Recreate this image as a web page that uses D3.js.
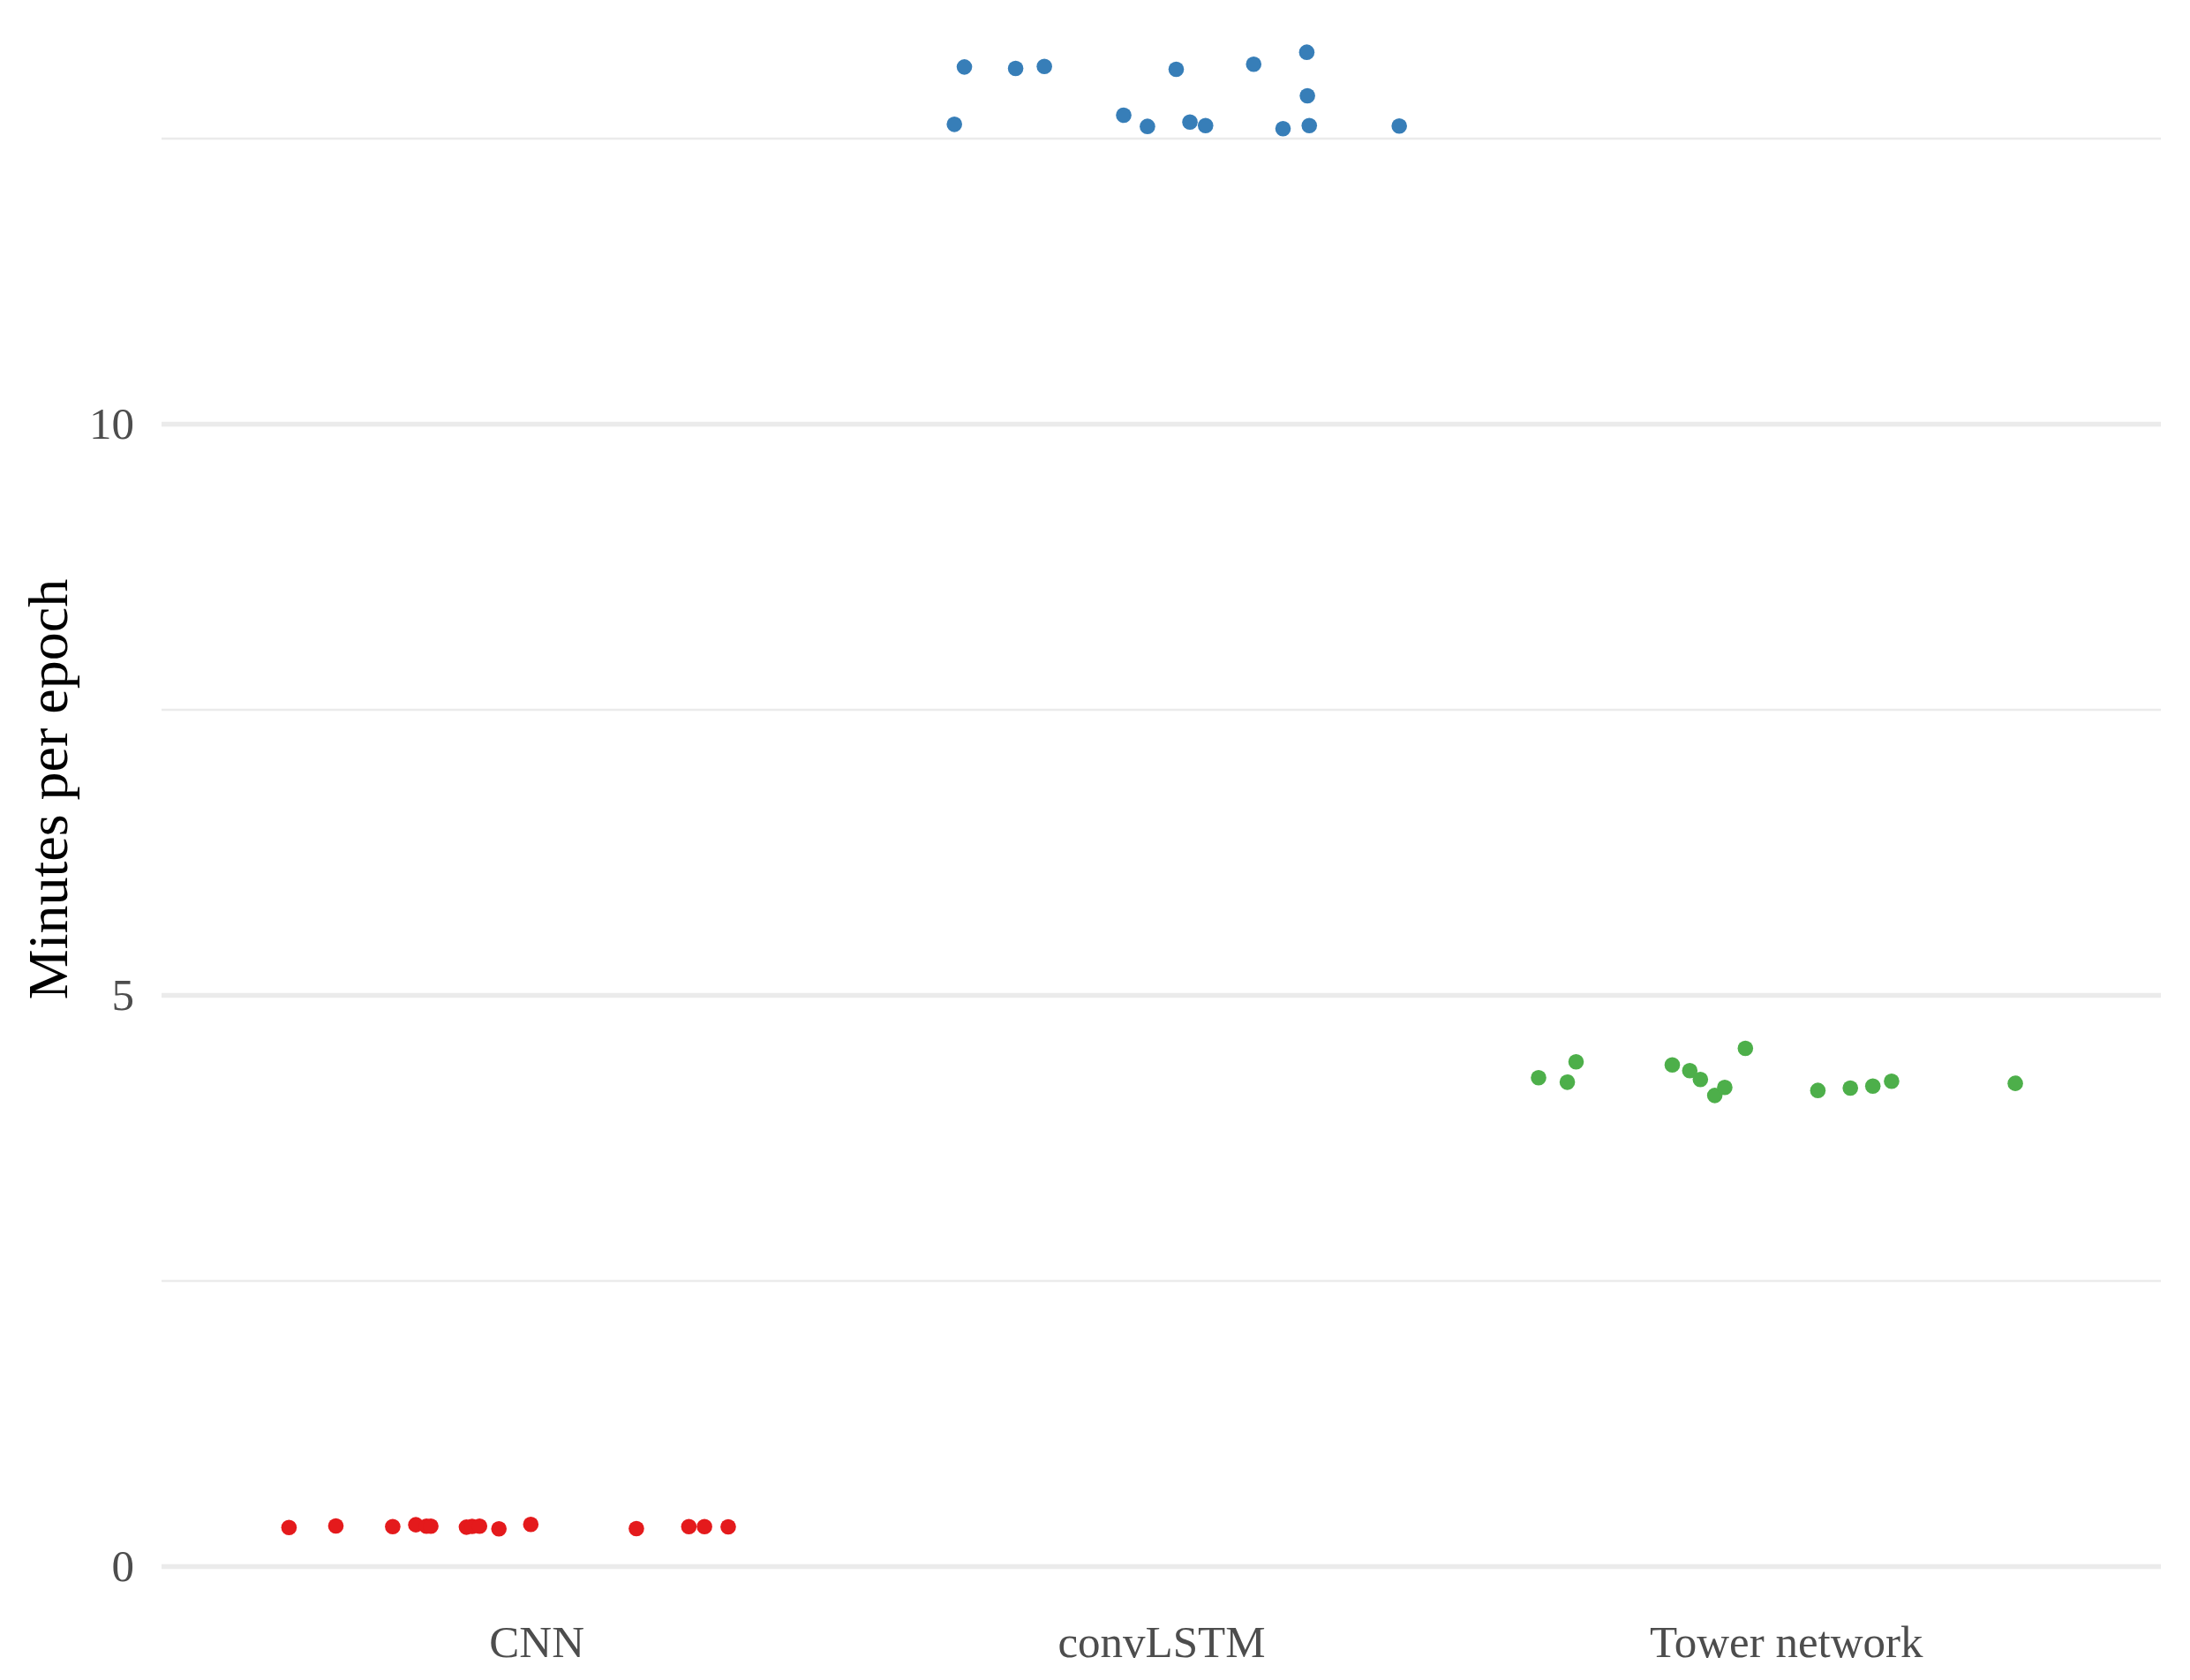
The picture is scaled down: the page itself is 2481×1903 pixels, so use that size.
<!DOCTYPE html>
<html>
<head>
<meta charset="utf-8">
<script src="https://cdn.jsdelivr.net/npm/d3@7"></script>
<style>
body { margin: 0; background: #fff; }
</style>
</head>
<body>
<div id="chart"></div>
<script>
// categories and tick values
const categories = ["CNN", "convLSTM", "Tower network"];
const colors = ["#E41A1C", "#377EB8", "#4DAF4A"];
const majorTicks = [0, 5, 10];
const minorTicks = [2.5, 7.5, 12.5];

// minutes per epoch (jitter = horizontal offset in category steps)
const cnnMinutes = [0.342, 0.355, 0.350, 0.366, 0.353, 0.353, 0.345, 0.352, 0.353, 0.330, 0.369, 0.332, 0.350, 0.350, 0.348];
const cnnJitter = [-0.396, -0.321, -0.230, -0.193, -0.176, -0.169, -0.112, -0.103, -0.091, -0.060, -0.009, 0.160, 0.244, 0.269, 0.307];

const lstmMinutes = [12.625, 13.127, 13.114, 13.132, 12.705, 12.607, 13.107, 12.645, 12.614, 13.151, 12.587, 13.256, 12.875, 12.614, 12.610];
const lstmJitter = [-0.331, -0.315, -0.233, -0.187, -0.060, -0.022, 0.024, 0.046, 0.071, 0.148, 0.195, 0.233, 0.234, 0.237, 0.381];

const towerMinutes = [4.279, 4.240, 4.418, 4.392, 4.341, 4.264, 4.124, 4.194, 4.536, 4.168, 4.189, 4.206, 4.248, 4.230];
const towerJitter = [-0.396, -0.350, -0.336, -0.182, -0.154, -0.137, -0.114, -0.098, -0.065, 0.051, 0.103, 0.139, 0.169, 0.367];

const series = [
    { name: "CNN", minutes: cnnMinutes, jitter: cnnJitter },
    { name: "convLSTM", minutes: lstmMinutes, jitter: lstmJitter },
    { name: "Tower network", minutes: towerMinutes, jitter: towerJitter }
];

let margin = { top: 0, right: 33, bottom: 130, left: 183 };
let width = 2481 - margin.left - margin.right,
    height = 1903 - margin.top - margin.bottom;

let svg = d3.select("#chart").append("svg")
    .attr("width", width + margin.left + margin.right)
    .attr("height", height + margin.top + margin.bottom)
    .append("g")
    .attr("transform", "translate(" + margin.left + "," + margin.top + ")");

let x = d3.scalePoint()
    .domain(categories)
    .range([0, width])
    .padding(0.6);

let y = d3.scaleLinear()
    .domain([0, 10])
    .range([1774.5, 480.5]);

let color = d3.scaleOrdinal()
    .domain(categories)
    .range(colors);

// grid lines
svg.append("g")
    .selectAll("line.minor")
    .data(minorTicks)
    .enter().append("line")
    .attr("class", "minor")
    .attr("x1", 0)
    .attr("x2", width)
    .attr("y1", d => y(d))
    .attr("y2", d => y(d))
    .style("stroke", "#EBEBEB")
    .style("stroke-width", 2.7);

svg.append("g")
    .selectAll("line.major")
    .data(majorTicks)
    .enter().append("line")
    .attr("class", "major")
    .attr("x1", 0)
    .attr("x2", width)
    .attr("y1", d => y(d))
    .attr("y2", d => y(d))
    .style("stroke", "#EBEBEB")
    .style("stroke-width", 5.3);

// axes
let yAxis = d3.axisLeft(y)
    .tickValues(majorTicks)
    .tickSize(0)
    .tickPadding(31)
    .tickFormat(d3.format("d"));

let xAxis = d3.axisBottom(x)
    .tickSize(0)
    .tickPadding(0);

svg.append("g")
    .attr("class", "y-axis axis")
    .call(yAxis)
    .call(g => g.select(".domain").remove())
    .selectAll("text")
    .style("font-family", "'Liberation Serif', serif")
    .style("font-size", "51px")
    .style("fill", "#4D4D4D");

svg.append("g")
    .attr("class", "x-axis axis")
    .attr("transform", "translate(0,1877)")
    .call(xAxis)
    .call(g => g.select(".domain").remove())
    .selectAll("text")
    .attr("dy", 0)
    .attr("y", 0)
    .style("font-family", "'Liberation Serif', serif")
    .style("font-size", "51px")
    .style("fill", "#4D4D4D");

// axis title
svg.append("text")
    .attr("transform", "translate(" + (76 - margin.left) + ",894) rotate(-90)")
    .style("text-anchor", "middle")
    .style("font-family", "'Liberation Serif', serif")
    .style("font-size", "64px")
    .style("fill", "#000")
    .text("Minutes per epoch");

// points
series.forEach(s => {
    svg.append("g")
        .selectAll("circle")
        .data(s.minutes.map((m, i) => ({ m: m, j: s.jitter[i] })))
        .enter().append("circle")
        .attr("cx", d => x(s.name) + d.j * x.step())
        .attr("cy", d => y(d.m))
        .attr("r", 8.8)
        .style("fill", color(s.name));
});
</script>
</body>
</html>
